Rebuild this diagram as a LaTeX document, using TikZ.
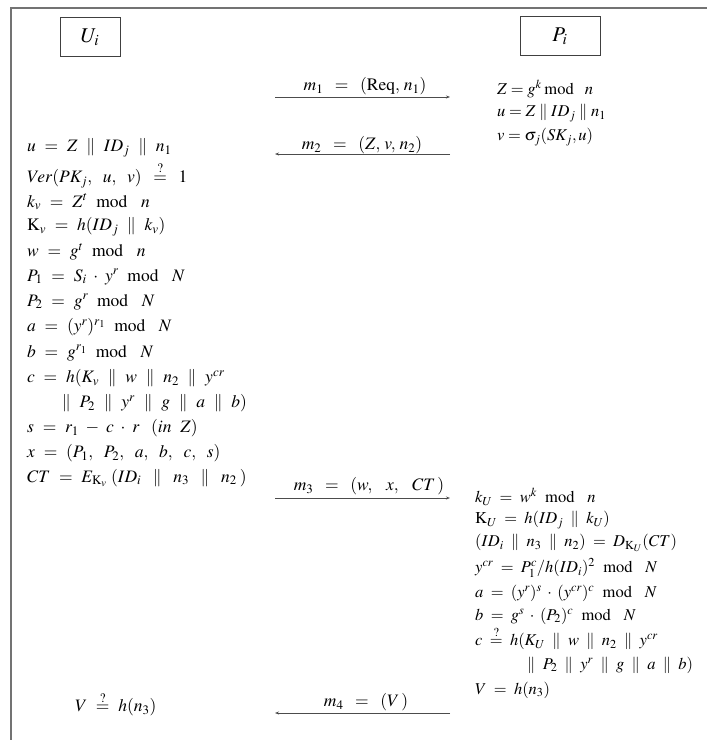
\documentclass[tikz,border=0pt]{standalone}
\usepackage{amsmath}
\usepackage{mathptmx}
\usepackage{fontspec}
\setmainfont{Liberation Serif}
\usetikzlibrary{arrows.meta}
\newcommand{\cat}{\parallel}
\newcommand{\md}{\mskip 9mu\mathrm{mod}\mskip 14mu}
\newcommand{\cm}{,\mskip 9mu}
\newcommand{\spL}{\thickmuskip=9mu plus 2mu\relax\medmuskip=7mu plus 2mu\relax}
\newcommand{\spS}{\thickmuskip=8mu plus 2mu\relax\medmuskip=6mu plus 2mu\relax}
\newcommand{\spM}{\thickmuskip=12mu plus 2mu\relax}
\begin{document}
\begin{tikzpicture}[x=1pt,y=-1pt,
  txt/.style={anchor=west,inner sep=0pt,font=\fontsize{17.5}{19}\selectfont\spL},
  txta/.style={anchor=west,inner sep=0pt,font=\fontsize{16.5}{18}\selectfont},
  txts/.style={anchor=west,inner sep=0pt,font=\fontsize{16.5}{18}\selectfont\spS},
  party/.style={draw=black!75,line width=0.8pt,minimum height=39pt,inner sep=0pt,font=\fontsize{21}{23}\selectfont},
  msg/.style={draw=black!70,line width=0.8pt,-{Stealth[length=4pt,width=3pt]}},
  lbl/.style={inner sep=0pt,font=\fontsize{17.5}{19}\selectfont\spM},
  frame/.style={draw=black!55,line width=1.6pt}]
\useasboundingbox (0,0) rectangle (707,740);
\draw[frame] (707,8) -- (11,8) -- (11,740);
% parties
\node[party,minimum width=60pt] (U) at (90,37) {$U_i$};
\node[party,minimum width=80pt] (P) at (560,36) {$P_i$};
% messages
\coordinate (m1a) at (275,97); \coordinate (m1b) at (450,97);
\coordinate (m2a) at (450,154); \coordinate (m2b) at (275,154);
\coordinate (m3a) at (275,498); \coordinate (m3b) at (450,498);
\coordinate (m4a) at (450,713); \coordinate (m4b) at (275,713);
\draw[msg] (m1a) -- (m1b);
\draw[msg] (m2a) -- (m2b);
\draw[msg] (m3a) -- (m3b);
\draw[msg] (m4a) -- (m4b);
\node[lbl] (l1) at (365,86) {$m_1=(\mathrm{Req},\,n_1)$};
\node[lbl] (l2) at (362,145) {$m_2=(Z,\,v,\,n_2)$};
\node[lbl] (l3) at (369,486) {$m_3=(w,\;x,\;CT\,)$};
\node[lbl] (l4) at (366,702) {$m_4=(V\,)$};
% P_i first computations
\node[txta] (p1) at (497,89) {$Z=g^k\mskip 3mu\mathrm{mod}\mskip 12mu n$};
\node[txta] (p2) at (497,113) {$u=Z\cat ID_j\cat n_1$};
\node[txta] (p3) at (497,137) {$v=\sigma_j(SK_j,u)$};
% U_i computations
\node[txt] (u1) at (27,148) {$u=Z\cat ID_j\cat n_1$};
\node[txt] (u2) at (27,175) {$Ver(PK_j\cm u\cm v)\mskip 3mu\overset{?}{=}\mskip 3mu 1$};
\node[txt] (u3) at (27,202) {$k_v=Z^t\md n$};
\node[txt] (u4) at (27,227) {$\mathrm{K}_v=h(ID_j\cat k_v)$};
\node[txt] (u5) at (27,252) {$w=g^t\md n$};
\node[txt] (u6) at (27,277) {$P_1=S_i\cdot y^r\md N$};
\node[txt] (u7) at (27,302) {$P_2=g^r\md N$};
\node[txt] (u8) at (27,327) {$a=(y^r)^{r_1}\md N$};
\node[txt] (u9) at (27,353) {$b=g^{r_1}\md N$};
\node[txt] (u10) at (27,378) {$c=h(K_v\cat w\cat n_2\cat y^{cr}$};
\node[txt] (u11) at (62,403) {$\cat P_2\cat y^r\cat g\cat a\cat b)$};
\node[txt] (u12) at (27,428) {$s=r_1-c\cdot r\mskip 12mu(in\ \ Z)$};
\node[txt] (u13) at (27,453) {$x=(P_1\cm P_2\cm a\cm b\cm c\cm s)$};
\node[txt] (u14) at (27,478) {$CT=E_{\mathrm{K}_v}\mskip 4mu(ID_i\mskip 3mu\cat\mskip 3mu n_3\mskip 3mu\cat\mskip 3mu n_2\mskip 3mu)$};
% P_i second computations
\node[txts] (q1) at (475,497) {$k_U=w^k\md n$};
\node[txts] (q2) at (475,520) {$\mathrm{K}_U=h(ID_j\cat k_U)$};
\node[txts] (q3) at (475,543) {$(ID_i\cat n_3\cat n_2)=D_{\mathrm{K}_U}(CT)$};
\node[txts] (q4) at (475,568) {$y^{cr}=P_1^c/h(ID_i)^2\md N$};
\node[txts] (q5) at (475,593) {$a=(y^r)^s\cdot(y^{cr})^c\md N$};
\node[txts] (q6) at (475,616) {$b=g^s\cdot(P_2)^c\md N$};
\node[txts] (q7) at (475,638) {$c\overset{?}{=}h(K_U\cat w\cat n_2\cat y^{cr}$};
\node[txts] (q8) at (527,665) {$\cat P_2\cat y^r\cat g\cat a\cat b)$};
\node[txts] (q9) at (475,690) {$V=h(n_3)$};
% U_i final check
\node[txt] (u15) at (75,704) {$V\overset{?}{=}h(n_3)$};
\end{tikzpicture}
\end{document}
